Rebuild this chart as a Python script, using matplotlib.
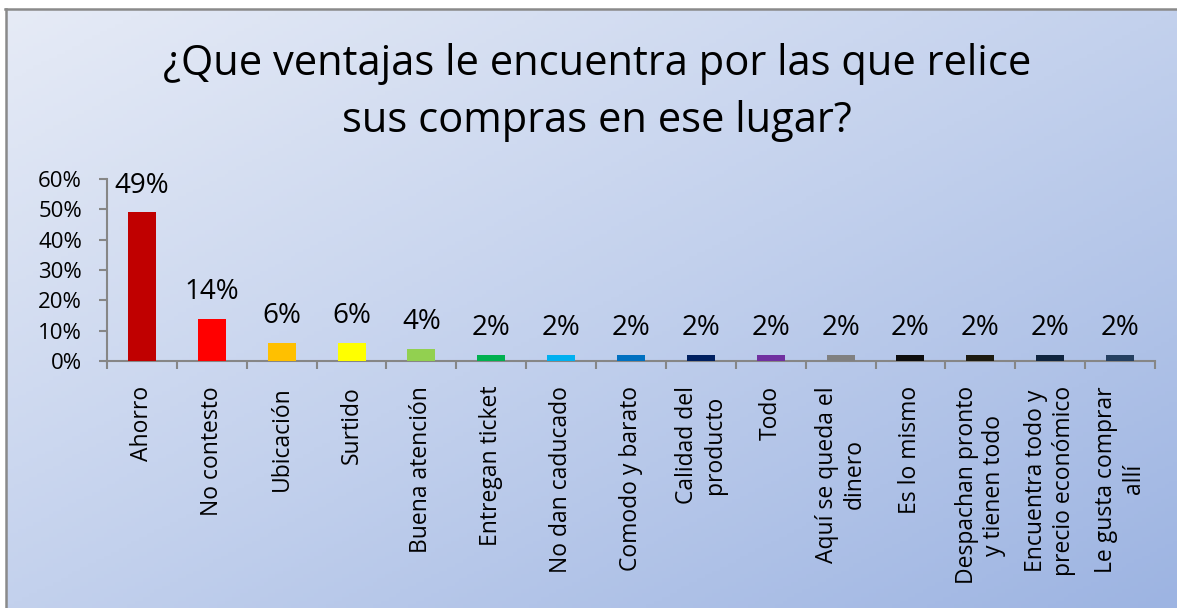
import numpy as np
import matplotlib
matplotlib.use("Agg")
import matplotlib.pyplot as plt
from matplotlib.colors import LinearSegmentedColormap

categories = [
    "Ahorro", "No contesto", "Ubicación", "Surtido", "Buena atención",
    "Entregan ticket", "No dan caducado", "Comodo y barato",
    "Calidad del\nproducto", "Todo", "Aquí se queda el\ndinero",
    "Es lo mismo", "Despachan pronto\ny tienen todo",
    "Encuentra todo y\nprecio económico", "Le gusta comprar\nallí",
]
values = [49, 14, 6, 6, 4, 2, 2, 2, 2, 2, 2, 2, 2, 2, 2]
colors = [
    "#C00000", "#FF0000", "#FFC000", "#FFFF00", "#92D050", "#00B050",
    "#00B0F0", "#0070C0", "#002060", "#7030A0", "#808080", "#0D0D0D",
    "#1D1B10", "#0F243E", "#243F60",
]
yticks = [0, 10, 20, 30, 40, 50, 60]
title_lines = ["¿Que ventajas le encuentra por las que relice",
               "sus compras en ese lugar?"]

plt.rcParams["font.family"] = ["Open Sans", "DejaVu Sans"]

W, H = 1177, 608
fig = plt.figure(figsize=(W / 100, H / 100), dpi=100)
fig.patch.set_facecolor("white")

# gradient background of the chart area
bg = fig.add_axes([6 / W, 0, 1 - 6 / W, 1 - 9 / H])
bg.set_axis_off()
gx, gy = np.meshgrid(np.linspace(0, 1, 300), np.linspace(0, 1, 160))
grad = (gx + gy) / 2
cmap = LinearSegmentedColormap.from_list("bg", ["#E6EBF6", "#C3D1ED", "#9DB4E2"])
bg.imshow(grad, cmap=cmap, aspect="auto", extent=[0, 1, 0, 1], origin="upper")
bg.set_xlim(0, 1)
bg.set_ylim(0, 1)
# frame lines (top and left)
fig.add_artist(plt.Line2D([5 / W, 1], [1 - 8.5 / H, 1 - 8.5 / H], color="#8A8A8A", lw=1.8))
fig.add_artist(plt.Line2D([5.5 / W, 5.5 / W], [0, 1 - 8.5 / H], color="#8A8A8A", lw=1.8))

for line, base in zip(title_lines, [75, 132]):
    fig.text(597 / W, 1 - base / H, line, ha="center", va="baseline",
             fontsize=30, color="black")

ax = fig.add_axes([107 / W, (H - 361) / H, (1155 - 107) / W, (361 - 179) / H])
ax.patch.set_alpha(0)
x = np.arange(len(values))
ax.bar(x, values, width=0.4, color=colors, zorder=3)
for xi, v in zip(x, values):
    ax.annotate(f"{v}%", (xi, v), xytext=(0, 14), textcoords="offset points",
                ha="center", va="baseline", fontsize=20, color="black")

ax.set_xlim(-0.5, len(values) - 0.5)
ax.set_ylim(0, 60)
ax.set_yticks(yticks)
ax.set_yticklabels([f"{t}%" for t in yticks], fontsize=16)
ax.set_xticks(x)
ax.set_xticklabels(categories, rotation=90, fontsize=16.5, ha="center", va="top",
                   multialignment="center", linespacing=1.2)
ax.set_xticks(np.arange(len(values) + 1) - 0.5, minor=True)
ax.tick_params(axis="x", which="major", length=0, pad=18)
ax.tick_params(axis="x", which="minor", length=6, width=1.5, color="#868686")
ax.tick_params(axis="y", length=6, width=1.5, color="#868686", pad=12)
for s in ["top", "right"]:
    ax.spines[s].set_visible(False)
for s in ["left", "bottom"]:
    ax.spines[s].set_color("#868686")
    ax.spines[s].set_linewidth(1.5)

fig.savefig("out.png", dpi=100)
